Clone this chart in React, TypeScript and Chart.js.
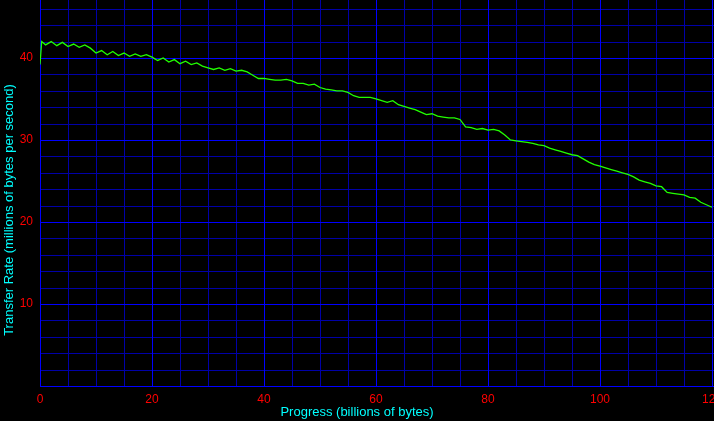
import React, { useEffect, useRef } from "react";
import { Chart, registerables } from "chart.js";

Chart.register(...registerables);

// Sample positions (billions of bytes)
const progress: number[] = [0, 0.3, ...Array.from({ length: 120 }, (_, i) => i + 1)];
// Transfer rate readings (millions of bytes per second)
const transferRate: number[] = [
  39.2, 42.0,
  41.6, 42.0, 41.5, 41.9, 41.4, 41.7, 41.3, 41.6, 41.2, 40.6,
  40.9, 40.4, 40.8, 40.3, 40.6, 40.2, 40.5, 40.2, 40.4, 40.1,
  39.7, 40.0, 39.5, 39.8, 39.3, 39.6, 39.2, 39.4, 39.0, 38.8,
  38.6, 38.8, 38.5, 38.7, 38.4, 38.5, 38.3, 37.9, 37.5, 37.5,
  37.4, 37.3, 37.3, 37.4, 37.2, 36.9, 36.9, 36.7, 36.8, 36.4,
  36.2, 36.1, 36.0, 36.0, 35.8, 35.4, 35.2, 35.2, 35.2, 35.0,
  34.8, 34.6, 34.8, 34.3, 34.1, 33.9, 33.7, 33.4, 33.1, 33.2,
  32.9, 32.8, 32.7, 32.7, 32.5, 31.6, 31.5, 31.3, 31.4, 31.2,
  31.3, 31.1, 30.6, 30.0, 29.9, 29.8, 29.7, 29.6, 29.4, 29.3,
  29.0, 28.8, 28.6, 28.4, 28.2, 28.1, 27.7, 27.3, 27.0, 26.8,
  26.6, 26.4, 26.2, 26.0, 25.8, 25.5, 25.1, 24.9, 24.7, 24.4,
  24.3, 23.6, 23.5, 23.4, 23.3, 23.0, 22.9, 22.4, 22.1, 21.8,
];

const xTicks: number[] = Array.from({ length: 25 }, (_, i) => i * 5);
const yTicks: number[] = Array.from({ length: 24 }, (_, i) => i * 2);
const X_MAX = 120.36;
const Y_MAX = 47.07;
const X_TITLE = "Progress (billions of bytes)";
const Y_TITLE = "Transfer Rate (millions of bytes per second)";

const MAJOR = "#0000ff";
const MINOR = "#0000a8";
const FONT = "'Liberation Sans', Arial, sans-serif";

export default function App() {
  const ref = useRef<HTMLCanvasElement | null>(null);

  useEffect(() => {
    const canvas = ref.current;
    if (!canvas) return;

    const gridPlugin = {
      id: "crispGrid",
      beforeDatasetsDraw(chart: any) {
        const { ctx, chartArea, scales } = chart;
        const xs = scales.x;
        const ys = scales.y;
        ctx.save();
        ctx.lineWidth = 1;
        const drawPass = (major: boolean) => {
          ctx.strokeStyle = major ? MAJOR : MINOR;
          ctx.beginPath();
          for (const v of xTicks) {
            if ((v % 20 === 0) !== major) continue;
            const px = Math.round(xs.getPixelForValue(v)) + 0.5;
            ctx.moveTo(px, chartArea.top);
            ctx.lineTo(px, chartArea.bottom + 1);
          }
          for (const v of yTicks) {
            if ((v % 10 === 0) !== major) continue;
            const py = Math.round(ys.getPixelForValue(v)) + 0.5;
            ctx.moveTo(chartArea.left, py);
            ctx.lineTo(chartArea.right, py);
          }
          ctx.stroke();
        };
        drawPass(false);
        drawPass(true);
        ctx.restore();
      },
    };

    const titlePlugin = {
      id: "titles",
      afterDraw(chart: any) {
        const ctx = chart.ctx;
        ctx.save();
        ctx.fillStyle = "#00ffff";
        ctx.font = `13px ${FONT}`;
        ctx.textAlign = "center";
        ctx.textBaseline = "middle";
        ctx.fillText(X_TITLE, 357, 412);
        ctx.translate(9, 210);
        ctx.rotate(-Math.PI / 2);
        ctx.fillText(Y_TITLE, 0, 0);
        ctx.restore();
      },
    };

    const chart = new Chart(canvas, {
      type: "line",
      data: {
        datasets: [
          {
            data: progress.map((x, i) => ({ x, y: transferRate[i] })),
            borderColor: "#22ff00",
            borderWidth: 1.3,
            pointRadius: 0,
            tension: 0,
            fill: false,
          },
        ],
      },
      options: {
        animation: false,
        responsive: false,
        maintainAspectRatio: false,
        layout: { padding: { left: 0, top: 0, right: 26, bottom: 0 } },
        plugins: { legend: { display: false }, tooltip: { enabled: false } },
        scales: {
          x: {
            type: "linear",
            min: 0,
            max: X_MAX,
            afterBuildTicks: (scale: any) => {
              scale.ticks = xTicks.map((v) => ({ value: v }));
            },
            afterFit: (scale: any) => {
              scale.height = 35;
              scale.paddingLeft = 0;
              scale.paddingRight = 0;
            },
            grid: { display: false, drawTicks: false },
            border: { display: false },
            ticks: {
              autoSkip: false,
              maxRotation: 0,
              padding: 6,
              color: "#ff0000",
              font: { family: FONT, size: 12 },
              callback: (v: any) => (Number(v) % 20 === 0 ? String(v) : ""),
            },
          },
          y: {
            type: "linear",
            min: 0,
            max: Y_MAX,
            afterBuildTicks: (scale: any) => {
              scale.ticks = yTicks.map((v) => ({ value: v }));
            },
            afterFit: (scale: any) => {
              scale.width = 40;
              scale.paddingTop = 0;
              scale.paddingBottom = 0;
            },
            grid: { display: false, drawTicks: false },
            border: { display: false },
            ticks: {
              autoSkip: false,
              padding: 7,
              color: "#ff0000",
              font: { family: FONT, size: 12 },
              callback: (v: any) => (Number(v) % 10 === 0 && Number(v) !== 0 ? String(v) : ""),
            },
          },
        },
      },
      plugins: [gridPlugin, titlePlugin],
    } as any);
    return () => chart.destroy();
  }, []);

  return (
    <div
      style={{
        position: "fixed",
        left: 0,
        top: 0,
        width: 714,
        height: 421,
        overflow: "hidden",
        background: "#000",
      }}
    >
      <canvas ref={ref} width={740} height={421} style={{ display: "block", width: 740, height: 421 }} />
    </div>
  );
}
